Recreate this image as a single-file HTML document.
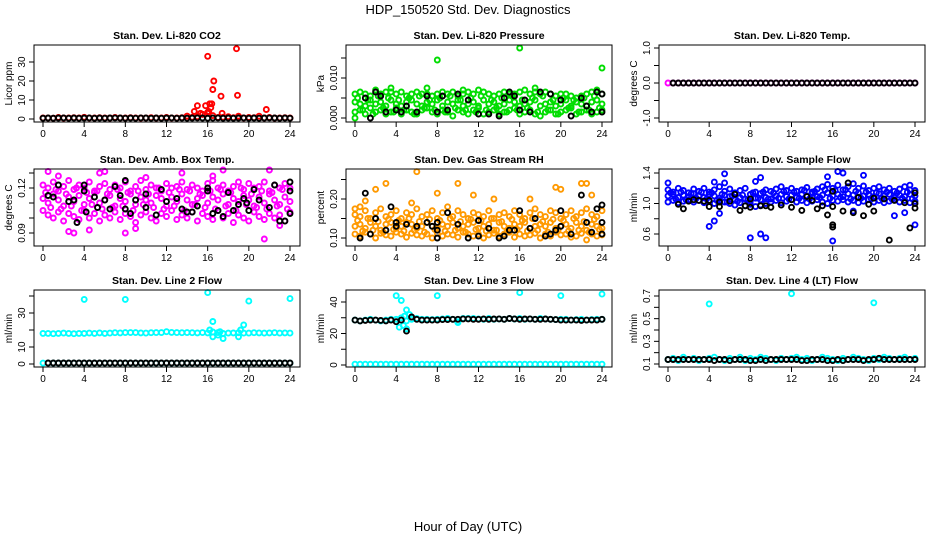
<!DOCTYPE html>
<html><head><meta charset="utf-8"><style>
body{margin:0;background:#fff;}
svg{display:block;font-family:"Liberation Sans",sans-serif;}
</style></head><body>
<svg id="chart" width="936" height="540">
<text x="468" y="14" text-anchor="middle" font-size="13">HDP_150520  Std. Dev. Diagnostics</text>
<text x="468" y="531" text-anchor="middle" font-size="13">Hour of Day (UTC)</text>
</svg>
<script>
const hrs = [0,0.5,1,1.5,2,2.5,3,3.5,4,4.5,5,5.5,6,6.5,7,7.5,8,8.5,9,9.5,10,10.5,11,11.5,12,12.5,13,13.5,14,14.5,15,15.5,16,16.5,17,17.5,18,18.5,19,19.5,20,20.5,21,21.5,22,22.5,23,23.5,24];
const hrsQ = [0.25,0.75,1.25,1.75,2.25,2.75,3.25,3.75,4.25,4.75,5.25,5.75,6.25,6.75,7.25,7.75,8.25,8.75,9.25,9.75,10.25,10.75,11.25,11.75,12.25,12.75,13.25,13.75,14.25,14.75,15.25,15.75,16.25,16.75,17.25,17.75,18.25,18.75,19.25,19.75,20.25,20.75,21.25,21.75,22.25,22.75,23.25,23.75];
const xTicks = [0,4,8,12,16,20,24];

// Panel 1 CO2
const co2Red = [0.5,0.6,0.4,0.8,0.5,0.6,0.7,0.5,0.9,0.6,0.5,0.7,0.6,0.5,0.8,0.6,0.5,0.7,0.6,0.5,0.6,0.7,0.5,0.6,0.8,0.6,0.5,0.7,1.5,0.9,1.2,2.5,3,1.8,0.8,0.9,1.2,0.7,1.5,0.6,0.8,0.7,1.5,0.6,0.8,0.5,0.6,0.7,0.5];
const co2OutH = [16,16.6,16.5,18.8,18.9,17.3,15,15.8,16.2,16.4,16.1,14.7,17.4,21.7,14,16,15.5,16.3,15.3];
const co2OutV = [33,20,15.5,37,12.5,12,7,7,8,8,4,4,3,5,1.5,3.5,2.5,6,3];
const co2Blk = [0.4,0.5,0.4,0.5,0.6,0.4,0.5,0.4,0.5,0.6,0.4,0.5,0.4,0.5,0.6,0.5,0.4,0.5,0.4,0.6,0.5,0.4,0.5,0.4,0.5,0.6,0.4,0.5,0.4,0.5,0.6,0.5,0.4,0.5,0.6,0.4,0.5,0.4,0.5,0.6,0.4,0.5,0.4,0.5,0.6,0.5,0.4,0.5,0.4];

// Panel 2 Pressure
const prHi = [0.006,0.0065,0.006,0.0055,0.007,0.006,0.0065,0.0075,0.006,0.0065,0.0055,0.006,0.0065,0.006,0.006,0.0055,0.006,0.0065,0.006,0.0065,0.0055,0.006,0.0065,0.006,0.007,0.0065,0.006,0.0055,0.006,0.0065,0.006,0.006,0.0065,0.007,0.006,0.0065,0.006,0.0065,0.006,0.0055,0.006,0.006,0.0055,0.005,0.0055,0.006,0.0065,0.0065,0.006];
const prMid = [0.004,0.0035,0.003,0.0045,0.0035,0.004,0.003,0.0045,0.0035,0.003,0.004,0.0045,0.0035,0.003,0.004,0.0035,0.0045,0.003,0.004,0.0035,0.0045,0.003,0.0035,0.004,0.003,0.0045,0.0035,0.004,0.003,0.0035,0.0045,0.004,0.003,0.0035,0.004,0.0045,0.003,0.0035,0.004,0.003,0.0035,0.0045,0.003,0.004,0.0035,0.003,0.004,0.0045,0.0035];
const prLo = [0.0015,0.002,0.001,0.0025,0.0015,0.002,0.001,0.0015,0.0025,0.001,0.002,0.0015,0.001,0.002,0.0025,0.0015,0.001,0.002,0.0015,0.0005,0.002,0.0015,0.001,0.002,0.0025,0.001,0.0015,0.002,0.001,0.0015,0.002,0.0025,0.001,0.0015,0.002,0.001,0.0005,0.0015,0.002,0.001,0.0015,0.002,0.0025,0.001,0.0015,0.002,0.001,0.0015,0.002];
const prQ = [0.005,0.002,0.0045,0.001,0.0055,0.0025,0.005,0.0015,0.0045,0.002,0.005,0.001,0.0055,0.0025,0.0045,0.002,0.005,0.0015,0.0055,0.0025,0.0045,0.002,0.005,0.0015,0.0055,0.002,0.0045,0.0025,0.005,0.0015,0.0055,0.002,0.0045,0.0025,0.005,0.0015,0.0055,0.002,0.0045,0.001,0.005,0.0025,0.0045,0.0015,0.005,0.002,0.0055,0.0025];
const prOutH = [8,16,24,0,7,3.5,10.5,17.5,23.5];
const prOutV = [0.0145,0.0175,0.0125,0,0.0075,0.0065,0.007,0.0075,0.007];
const prBlkH = [1,1.5,2,2.5,3,4,4.5,5,6,7,8,8.5,9,10,11,12,13,14,14.5,15,15.5,16,16.5,17,18,19,20,21,22,22.5,23,23.5,24,24];
const prBlkV = [0.005,0,0.0065,0.0055,0.0015,0.002,0.0015,0.003,0.0015,0.0055,0.0015,0.0055,0.002,0.006,0.0045,0.001,0.001,0.0005,0.005,0.0065,0.0055,0.002,0.0045,0.0015,0.0065,0.006,0.0045,0.0005,0.005,0.003,0.0015,0.0065,0.006,0.0015];

// Panel 3 Li-820 Temp
const tmpMag = [0,0,0,0,0,0,0,0,0,0,0,0,0,0,0,0,0,0,0,0,0,0,0,0,0,0,0,0,0,0,0,0,0,0,0,0,0,0,0,0,0,0,0,0,0,0,0,0,0];
const tmpBlk = [0,0,0,0,0,0,0,0,0,0,0,0,0,0,0,0,0,0,0,0,0,0,0,0,0,0,0,0,0,0,0,0,0,0,0,0,0,0,0,0,0,0,0,0,0,0,0,0,0];

// Panel 4 Amb Box Temp
const ambHi = [0.122,0.12,0.124,0.118,0.121,0.125,0.119,0.122,0.12,0.124,0.118,0.121,0.123,0.119,0.122,0.12,0.124,0.118,0.121,0.125,0.119,0.122,0.12,0.118,0.123,0.12,0.121,0.124,0.119,0.122,0.12,0.118,0.123,0.125,0.12,0.122,0.118,0.121,0.124,0.119,0.123,0.12,0.121,0.124,0.118,0.122,0.12,0.123,0.12];
const ambMid = [0.113,0.11,0.116,0.112,0.108,0.114,0.111,0.115,0.109,0.113,0.117,0.11,0.112,0.115,0.108,0.113,0.111,0.116,0.109,0.114,0.112,0.11,0.115,0.113,0.108,0.114,0.111,0.116,0.112,0.109,0.113,0.115,0.11,0.114,0.112,0.116,0.109,0.113,0.111,0.115,0.112,0.108,0.114,0.11,0.116,0.112,0.109,0.114,0.111];
const ambLo = [0.105,0.102,0.1,0.104,0.098,0.103,0.101,0.099,0.105,0.1,0.103,0.098,0.102,0.1,0.104,0.099,0.103,0.101,0.097,0.102,0.104,0.1,0.098,0.103,0.101,0.105,0.099,0.102,0.1,0.104,0.098,0.103,0.101,0.099,0.105,0.1,0.103,0.097,0.102,0.1,0.098,0.104,0.101,0.099,0.103,0.1,0.102,0.098,0.104];
const ambQ = [0.117,0.107,0.119,0.106,0.116,0.108,0.12,0.105,0.117,0.109,0.118,0.106,0.116,0.107,0.119,0.108,0.117,0.105,0.118,0.109,0.116,0.107,0.12,0.106,0.117,0.108,0.119,0.105,0.118,0.109,0.116,0.107,0.118,0.106,0.119,0.108,0.117,0.105,0.12,0.109,0.116,0.107,0.118,0.106,0.117,0.108,0.119,0.106];
const ambOutH = [0.5,1.5,3,2.5,5.5,6,8,10,16.5,17.5,22,21.5,23,4.5,9,13.5];
const ambOutV = [0.131,0.128,0.09,0.091,0.13,0.131,0.09,0.127,0.128,0.132,0.132,0.086,0.095,0.092,0.093,0.13];
const ambBlkH = [0.5,1,1.5,2.5,3,3.3,4,4,4.2,5,5.3,6,6.5,7,7.5,8,8,8.5,9,10,10,11,11.5,12,13,13.5,14,14.5,15,16,16,16.5,17,17.5,18,18.5,19,19.5,19.8,20,20.5,21,22,22.5,23,23.5,24,24,24];
const ambBlkV = [0.115,0.114,0.122,0.111,0.112,0.097,0.118,0.122,0.104,0.114,0.107,0.112,0.106,0.121,0.115,0.125,0.106,0.103,0.112,0.107,0.116,0.102,0.119,0.111,0.113,0.106,0.104,0.104,0.108,0.118,0.12,0.103,0.105,0.101,0.117,0.105,0.109,0.113,0.11,0.105,0.119,0.112,0.107,0.122,0.098,0.098,0.103,0.118,0.124];

// Panel 5 Gas Stream RH
const rhHi = [0.16,0.155,0.17,0.15,0.165,0.175,0.155,0.16,0.17,0.15,0.165,0.16,0.175,0.155,0.16,0.17,0.15,0.165,0.18,0.155,0.17,0.16,0.15,0.165,0.16,0.155,0.17,0.15,0.16,0.165,0.155,0.17,0.16,0.15,0.165,0.175,0.16,0.155,0.17,0.165,0.15,0.16,0.17,0.155,0.165,0.175,0.16,0.155,0.17];
const rhMid = [0.13,0.135,0.125,0.14,0.13,0.12,0.135,0.14,0.125,0.13,0.14,0.135,0.125,0.13,0.14,0.13,0.125,0.135,0.13,0.14,0.125,0.13,0.135,0.14,0.125,0.13,0.135,0.12,0.14,0.13,0.125,0.135,0.13,0.14,0.125,0.13,0.135,0.13,0.14,0.125,0.13,0.135,0.125,0.14,0.13,0.12,0.135,0.13,0.125];
const rhLo = [0.11,0.105,0.115,0.11,0.1,0.112,0.108,0.105,0.115,0.11,0.102,0.112,0.108,0.105,0.11,0.1,0.112,0.105,0.11,0.108,0.102,0.115,0.11,0.105,0.11,0.1,0.108,0.112,0.105,0.11,0.115,0.102,0.11,0.105,0.108,0.112,0.1,0.11,0.105,0.115,0.108,0.11,0.102,0.105,0.112,0.095,0.11,0.105,0.108];
const rhQ = [0.145,0.118,0.15,0.12,0.142,0.115,0.148,0.122,0.145,0.118,0.15,0.12,0.142,0.115,0.148,0.122,0.145,0.118,0.15,0.12,0.142,0.115,0.148,0.122,0.145,0.118,0.15,0.12,0.142,0.115,0.148,0.122,0.145,0.118,0.15,0.12,0.142,0.115,0.148,0.122,0.145,0.118,0.15,0.12,0.142,0.115,0.148,0.122];
const rhOutH = [6,3,10,2,20,22,22.5,8,11.5,23,1,0,13.5,17,19.5,5.5,0.5];
const rhOutV = [0.27,0.24,0.24,0.225,0.225,0.24,0.24,0.215,0.21,0.21,0.195,0.175,0.2,0.2,0.23,0.19,0.18];
const rhBlkH = [1,0.5,1.5,2,3,3.5,4,4,5,6,7,7.5,8,8,8,9,10,11,12,12,13,14,14.5,15,15.5,16,17,17.5,18.5,19,19.5,20,20,21,22,22.5,23,23.5,24,24,24];
const rhBlkV = [0.215,0.1,0.11,0.15,0.12,0.18,0.13,0.14,0.135,0.13,0.14,0.13,0.12,0.14,0.1,0.165,0.135,0.1,0.105,0.145,0.125,0.1,0.105,0.12,0.12,0.17,0.125,0.15,0.105,0.11,0.12,0.13,0.17,0.11,0.21,0.14,0.115,0.175,0.185,0.14,0.11];

// Panel 6 Sample Flow
const sfHi = [1.18,1.15,1.2,1.17,1.14,1.19,1.16,1.2,1.15,1.18,1.22,1.16,1.19,1.14,1.17,1.2,1.12,1.15,1.13,1.18,1.16,1.19,1.22,1.17,1.2,1.16,1.18,1.21,1.15,1.19,1.22,1.25,1.2,1.24,1.18,1.22,1.26,1.2,1.23,1.17,1.2,1.22,1.18,1.2,1.16,1.19,1.22,1.18,1.17];
const sfMid = [1.1,1.12,1.08,1.11,1.09,1.13,1.1,1.08,1.12,1.1,1.07,1.11,1.09,1.05,1.08,1.06,1.03,1.07,1.05,1.08,1.06,1.1,1.12,1.09,1.11,1.08,1.12,1.1,1.13,1.09,1.11,1.14,1.1,1.12,1.09,1.13,1.11,1.14,1.1,1.12,1.09,1.13,1.1,1.12,1.08,1.11,1.09,1.12,1.1];
const sfLo = [1.02,1.04,1.01,1.03,1.05,1.02,1.04,1.01,1.03,1.0,1.04,1.02,1.0,0.98,1.01,0.97,0.99,0.96,0.98,1.0,1.02,1.04,1.01,1.03,1.05,1.02,1.04,1.01,1.03,1.05,1.02,1.0,1.04,1.03,1.05,1.02,1.04,1.01,1.03,1.05,1.02,1.04,1.01,1.03,1.05,1.02,1.04,1.01,1.03];
const sfQ = [1.14,1.06,1.15,1.05,1.13,1.07,1.15,1.06,1.14,1.04,1.12,1.02,1.1,1.03,1.11,1.05,1.14,1.07,1.15,1.06,1.14,1.07,1.16,1.06,1.15,1.07,1.17,1.06,1.16,1.08,1.18,1.07,1.17,1.08,1.18,1.06,1.16,1.07,1.15,1.06,1.14,1.07,1.15,1.06,1.14,1.07,1.15,1.06];
const sfOutH = [0,4,4.5,4.5,5,5.5,5.5,8,8.5,9,9,9.5,16,16.5,17,15.5,18,19,22,23,23.5,24];
const sfOutV = [1.27,0.7,0.77,1.28,0.87,1.39,1.27,0.55,1.29,1.34,0.6,0.55,0.51,1.42,1.4,1.35,0.9,1.37,0.84,0.88,1.24,0.72];
const sfBlkH = [1,1.5,2,2.5,3,3.5,4,4,5,5,6,6.5,7,7.5,8,8,9,9.5,10,11,12,12,13,13.5,14,14.5,15,15.5,16,16,16,16,17,17.5,18,18.5,19,19.5,20,20,21,21.5,22,23,23.5,24,24,24];
const sfBlkV = [0.99,0.93,1.03,1.05,1.04,1.03,0.96,1.04,1.02,0.96,1.03,1.12,0.91,0.97,0.95,1.06,0.97,0.97,0.95,0.98,0.95,1.05,0.91,1.09,1.04,0.93,0.97,0.85,0.69,0.72,0.96,1.16,0.9,1.27,0.88,1.08,0.84,0.99,1.07,0.9,1.06,0.52,1.04,1.01,0.68,1.14,1.0,0.94];

// Panel 7 Line 2 Flow
const l2Main = [18,18,17.8,18,18.2,18,17.8,18,18,18.2,18,18.3,18,18.2,18.4,18.3,18.5,18.5,18.5,18.3,18.2,18.4,18.5,18.5,19,18.6,18.5,18.4,18.5,18.4,18.3,18.5,18.3,18.8,18.5,18,18.2,18.3,18.4,18.2,18.2,18.4,18.3,18.2,18.3,18.4,18.2,18.3,18.2];
const l2Low = [0.5,0.5,0.5,0.5,0.5,0.5,0.5,0.5,0.5,0.5,0.5,0.5,0.5,0.5,0.5,0.5,0.5,0.5,0.5,0.5,0.5,0.5,0.5,0.5,0.5,0.5,0.5,0.5,0.5,0.5,0.5,0.5,0.5,0.5,0.5,0.5,0.5,0.5,0.5,0.5,0.5,0.5,0.5,0.5,0.5,0.5,0.5,0.5,0.5];
const l2OutH = [4,8,16,20,24,16.5,16.5,19.5,19,17.5,17,16.2,17.2,19.2];
const l2OutV = [38,38,42,37,38.5,25,16,23,16,15,17,20,19,20];
const l2Blk = [0.6,0.6,0.6,0.6,0.6,0.6,0.6,0.6,0.6,0.6,0.6,0.6,0.6,0.6,0.6,0.6,0.6,0.6,0.6,0.6,0.6,0.6,0.6,0.6,0.6,0.6,0.6,0.6,0.6,0.6,0.6,0.6,0.6,0.6,0.6,0.6,0.6,0.6,0.6,0.6,0.6,0.6,0.6,0.6,0.6,0.6,0.6,0.6,0.6];

// Panel 8 Line 3 Flow
const l3Main = [28.5,28,28.5,29,28.5,28,28.5,29,29,30,28,29,29.5,29,29,28.8,29,29.2,29.5,29,27.5,29.5,29.5,29.5,29.3,29,29.5,29,29.3,29,29.5,29.2,29.5,29,29.3,29,29.5,29.2,29,28.8,29,29,28.5,28.8,29,28.5,28.8,29,29];
const l3Low = [0.5,0.5,0.5,0.5,0.5,0.5,0.5,0.5,0.5,0.5,0.5,0.5,0.5,0.5,0.5,0.5,0.5,0.5,0.5,0.5,0.5,0.5,0.5,0.5,0.5,0.5,0.5,0.5,0.5,0.5,0.5,0.5,0.5,0.5,0.5,0.5,0.5,0.5,0.5,0.5,0.5,0.5,0.5,0.5,0.5,0.5,0.5,0.5,0.5];
const l3OutH = [4,4.5,5,8,16,20,24,4.7,5,4.3,5.3,10,4.8];
const l3OutV = [44,41,35,44,46,44,45,25,23,24,32,27,31];
const l3Blk = [28.5,28,28.3,28.5,28.5,28.3,28,28.5,27.5,28.5,21.5,30.5,29,28.5,28.5,28.5,28.5,28.8,28.8,29,29,29.3,29.3,29,29,29.3,29,29.2,29.3,29,29.5,29.3,29,29.2,29.3,29,29,29.2,29,28.8,28.5,28.5,28.5,28.5,28.3,28.5,28.5,28.5,29];

// Panel 9 Line 4 (LT) Flow
const l4Main = [0.14,0.15,0.13,0.16,0.14,0.15,0.13,0.14,0.15,0.16,0.14,0.13,0.15,0.14,0.16,0.13,0.15,0.14,0.16,0.15,0.14,0.13,0.15,0.14,0.15,0.16,0.14,0.15,0.13,0.14,0.16,0.15,0.14,0.13,0.15,0.14,0.16,0.15,0.14,0.13,0.15,0.14,0.16,0.15,0.14,0.15,0.16,0.14,0.15];
const l4OutH = [4,12,20];
const l4OutV = [0.63,0.72,0.64];
const l4Blk = [0.14,0.14,0.14,0.14,0.14,0.14,0.14,0.14,0.14,0.13,0.14,0.14,0.13,0.14,0.14,0.14,0.13,0.13,0.14,0.13,0.14,0.14,0.14,0.14,0.14,0.14,0.13,0.13,0.14,0.14,0.14,0.13,0.13,0.14,0.13,0.14,0.14,0.14,0.13,0.14,0.14,0.15,0.14,0.14,0.14,0.14,0.14,0.14,0.14];

const yTicks1 = [0,10,20,30], yLab1 = ["0","10","20","30"];
const yTicks2 = [0,0.005,0.01,0.015], yLab2 = ["0.000","","0.010",""];
const yTicks3 = [-1,-0.5,0,0.5,1], yLab3 = ["-1.0","","0.0","","1.0"];
const yTicks4 = [0.09,0.1,0.11,0.12,0.13], yLab4 = ["0.09","","","0.12",""];
const yTicks5 = [0.1,0.15,0.2,0.25], yLab5 = ["0.10","","0.20",""];
const yTicks6 = [0.6,0.8,1.0,1.2,1.4], yLab6 = ["0.6","","1.0","","1.4"];
const yTicks7 = [0,10,20,30,40], yLab7 = ["0","10","","30",""];
const yTicks8 = [0,10,20,30,40], yLab8 = ["0","","20","","40"];
const yTicks9 = [0.1,0.2,0.3,0.4,0.5,0.6,0.7], yLab9 = ["0.1","","0.3","","0.5","","0.7"];

const NS = "http://www.w3.org/2000/svg";
const svg = document.getElementById('chart');
function mk(tag, attrs, parent){const e=document.createElementNS(NS,tag);for(const k in attrs)e.setAttribute(k,attrs[k]);(parent||svg).appendChild(e);return e;}

const colL = [34,346,659], rowT = [45,169,290], W = 266, H = 77;
const panels = [
 {id:'co2',title:'Stan. Dev. Li-820 CO2',yl:'Licor ppm',c:0,r:0,ys:[0,119,30,62],ticks:yTicks1,labs:yLab1,
  layers:[[hrs,co2Red,'#ff0000'],[co2OutH,co2OutV,'#ff0000'],[hrs,co2Blk,'#000']]},
 {id:'pressure',title:'Stan. Dev. Li-820 Pressure',yl:'kPa',c:1,r:0,ys:[0,118,0.01,78],ticks:yTicks2,labs:yLab2,
  layers:[[hrs,prHi,'#00dd00'],[hrs,prMid,'#00dd00'],[hrs,prLo,'#00dd00'],[hrsQ,prQ,'#00dd00'],[prOutH,prOutV,'#00dd00'],[prBlkH,prBlkV,'#000']]},
 {id:'licor-temp',title:'Stan. Dev. Li-820 Temp.',yl:'degrees C',c:2,r:0,ys:[-1,118,1,48],ticks:yTicks3,labs:yLab3,
  layers:[[hrs,tmpMag,'#ff00ff'],[hrs.slice(1),tmpBlk.slice(1),'#000']]},
 {id:'amb-box-temp',title:'Stan. Dev. Amb. Box Temp.',yl:'degrees C',c:0,r:1,ys:[0.09,233,0.12,188],ticks:yTicks4,labs:yLab4,
  layers:[[hrs,ambHi,'#ff00ff'],[hrs,ambMid,'#ff00ff'],[hrs,ambLo,'#ff00ff'],[hrsQ,ambQ,'#ff00ff'],[ambOutH,ambOutV,'#ff00ff'],[ambBlkH,ambBlkV,'#000']]},
 {id:'gas-rh',title:'Stan. Dev. Gas Stream RH',yl:'percent',c:1,r:1,ys:[0.1,238,0.2,199],ticks:yTicks5,labs:yLab5,
  layers:[[hrs,rhHi,'#ff9900'],[hrs,rhMid,'#ff9900'],[hrs,rhLo,'#ff9900'],[hrsQ,rhQ,'#ff9900'],[rhOutH,rhOutV,'#ff9900'],[rhBlkH,rhBlkV,'#000']]},
 {id:'sample-flow',title:'Stan. Dev. Sample Flow',yl:'ml/min',c:2,r:1,ys:[0.6,234,1.4,173],ticks:yTicks6,labs:yLab6,
  layers:[[hrs,sfHi,'#0000ff'],[hrs,sfMid,'#0000ff'],[hrs,sfLo,'#0000ff'],[hrsQ,sfQ,'#0000ff'],[sfOutH,sfOutV,'#0000ff'],[sfBlkH,sfBlkV,'#000']]},
 {id:'line2-flow',title:'Stan. Dev. Line 2 Flow',yl:'ml/min',c:0,r:2,ys:[0,364,30,313],ticks:yTicks7,labs:yLab7,
  layers:[[hrs,l2Main,'#00ffff'],[hrs,l2Low,'#00ffff'],[l2OutH,l2OutV,'#00ffff'],[hrs.slice(1),l2Blk.slice(1),'#000']]},
 {id:'line3-flow',title:'Stan. Dev. Line 3 Flow',yl:'ml/min',c:1,r:2,ys:[0,365,40,302],ticks:yTicks8,labs:yLab8,
  layers:[[hrs,l3Main,'#00ffff'],[hrs,l3Low,'#00ffff'],[l3OutH,l3OutV,'#00ffff'],[hrs,l3Blk,'#000']]},
 {id:'line4-flow',title:'Stan. Dev. Line 4 (LT) Flow',yl:'ml/min',c:2,r:2,ys:[0.1,364,0.7,296],ticks:yTicks9,labs:yLab9,
  layers:[[hrs,l4Main,'#00ffff'],[l4OutH,l4OutV,'#00ffff'],[hrs,l4Blk,'#000']]}
];

panels.forEach(p=>{
  const L=colL[p.c], T=rowT[p.r];
  const g=mk('g',{});
  
  
  const xs = h => L+9 + h*(247/24);
  const ysf = v => p.ys[1] + (v-p.ys[0])*(p.ys[3]-p.ys[1])/(p.ys[2]-p.ys[0]);
  const t=mk('text',{x:L+W/2,y:T-6,'text-anchor':'middle','font-size':'10.5','font-weight':'bold'},g);
  t.textContent=p.title;
  
  
  const pg=mk('g',{fill:'none','stroke-width':'1.9'},g);
  
  
  p.layers.forEach(ly=>{
    const hx=ly[0], vy=ly[1];
    for(let i=0;i<vy.length;i++){
      const c=mk('circle',{cx:xs(hx[i]).toFixed(1),cy:ysf(vy[i]).toFixed(1),r:'2.5',stroke:ly[2]},pg);
      
      
    }
  });
  const box=mk('rect',{x:L,y:T,width:W,height:H,fill:'none',stroke:'#000','stroke-width':'1'},g);
  
  
  const xa=mk('g',{},g);
  
  
  xTicks.forEach(v=>{
    const x=xs(v);
    mk('line',{x1:x,x2:x,y1:T+H,y2:T+H+5,stroke:'#000'},xa);
    const tx=mk('text',{x:x,y:T+H+15,'text-anchor':'middle','font-size':'10'},xa);
    tx.textContent=v;
  });
  const ya=mk('g',{},g);
  
  
  p.ticks.forEach((v,i)=>{
    const y=ysf(v);
    mk('line',{x1:L-5,x2:L,y1:y,y2:y,stroke:'#000'},ya);
    if(p.labs[i]){
      const tx=mk('text',{x:L-9,y:y,'text-anchor':'middle','font-size':'10',transform:`rotate(-90 ${L-9} ${y})`},ya);
      tx.textContent=p.labs[i];
    }
  });
  const yl=mk('text',{x:L-22,y:T+H/2,'text-anchor':'middle','font-size':'10',transform:`rotate(-90 ${L-22} ${T+H/2})`},g);
  yl.textContent=p.yl;
  
  
});
</script>
</body></html>
